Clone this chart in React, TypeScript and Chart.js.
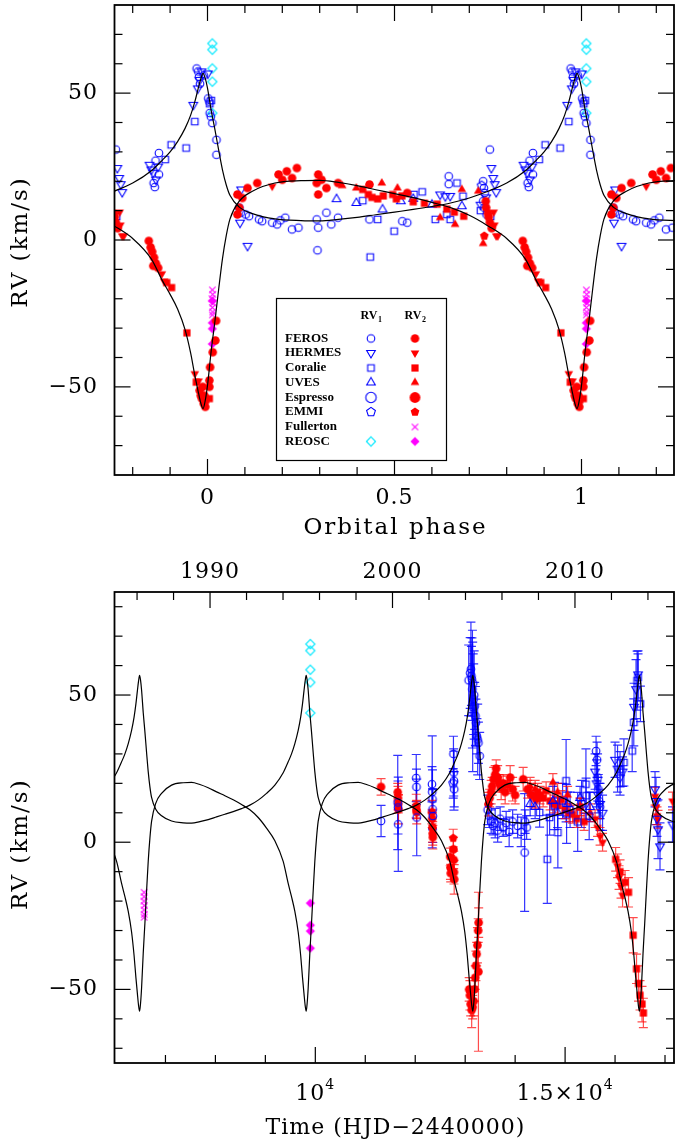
import React, { useEffect, useRef } from "react";
import { Chart, registerables } from "chart.js";

Chart.register(...registerables);

// ================= Orbital model (one cycle) =================
const MODEL_PHASE = [0, 0.01, 0.02, 0.03, 0.04, 0.05, 0.06, 0.085, 0.12, 0.18, 0.25, 0.3, 0.35, 0.4, 0.45, 0.5, 0.55, 0.6, 0.65, 0.7, 0.75, 0.8, 0.85, 0.88, 0.9, 0.92, 0.94, 0.955, 0.966, 0.975, 0.982, 0.988, 0.994];
const MODEL_RV1 = [51.7, 44.0, 37.5, 30.5, 23.9, 18.8, 15.2, 11.2, 9.0, 7.2, 6.6, 6.5, 7.0, 7.7, 8.6, 9.5, 10.4, 11.4, 12.6, 14.3, 16.6, 19.4, 23.6, 27.3, 30.0, 33.5, 38.0, 42.5, 47.0, 51.5, 54.8, 56.7, 55.0];
const MODEL_RV2 = [-49.5, -37.6, -27.5, -16.6, -6.4, 1.4, 7.1, 13.2, 16.6, 19.4, 20.2, 20.3, 19.6, 18.5, 17.1, 15.8, 14.4, 12.8, 11.0, 8.4, 4.8, 0.5, -6.5, -14.0, -18.5, -23.5, -30.5, -38.5, -46.0, -51.5, -55.5, -57.4, -54.6];
const EPOCH = 6522; // HJD-2440000 at phase 0
const PERIOD = 3335; // days

// ================= Phase-folded data [phase, RV] =================
const PH_FEROS_RV1 = [
  [0.002, 48.2], [0.005, 47.1], [0.006, 43.2], [0.009, 42.0], [0.013, 39.8], [0.024, 34.1], [0.024, 29.0],
  [0.085, 11.0], [0.089, 9.3], [0.102, 8.7], [0.111, 8.1], [0.138, 7.0], [0.146, 6.4],
  [0.173, 5.9], [0.186, 5.3], [0.195, 6.7], [0.208, 7.6], [0.226, 3.6], [0.243, 4.2],
  [0.292, 7.0], [0.296, 4.2], [0.294, -3.5], [0.318, 9.3], [0.331, 5.3], [0.349, 7.6],
  [0.433, 7.0], [0.521, 6.4], [0.534, 5.9], [0.645, 21.7], [0.645, 19.0],
  [0.737, 20.0], [0.739, 17.7], [0.741, 16.0], [0.737, 13.2], [0.74, 11.0], [0.746, 8.7], [0.755, 30.8],
  [0.856, 19.4], [0.859, 18.0], [0.861, 27.0], [0.87, 22.3], [0.87, 29.6],
  [0.971, 58.4], [0.975, 57.4], [0.977, 55.5], [0.98, 53.2], [0.99, 56.0],
];
const PH_HERMES_RV1 = [
  [0.001, 56.7], [0.087, 5.9], [0.09, 17.2], [0.107, -2.0],
  [0.622, 15.5], [0.636, 14.9], [0.649, 15.0], [0.73, 12.0], [0.745, 14.5],
  [0.759, 24.5], [0.764, 21.1], [0.768, 19.0], [0.772, 16.3],
  [0.845, 25.6], [0.85, 24.0], [0.855, 22.9], [0.862, 20.6], [0.868, 25.0],
  [0.962, 46.0], [0.974, 51.6], [0.979, 54.5], [0.984, 57.4],
];
const PH_CORALIE_RV1 = [
  [0.006, 46.4], [0.01, 47.5], [0.415, 13.4], [0.435, -5.8], [0.455, 7.0], [0.499, 3.0],
  [0.552, 15.5], [0.574, 16.4], [0.609, 7.0], [0.64, 8.7], [0.649, 7.0], [0.667, 19.4], [0.683, 14.9],
  [0.73, 10.0], [0.757, 8.0], [0.887, 27.4], [0.903, 32.4], [0.943, 31.3], [0.966, 40.3],
];
const PH_UVES_RV1 = [[0.345, 13.9], [0.398, 12.6], [0.468, 10.4], [0.517, 13.2], [0.55, 14.0], [0.6, 12.0], [0.68, 11.5]];
const PH_EMMI_RV1 = [[0.733, 18.5]];
const PH_REOSC_RV1 = [[0.013, 66.9], [0.013, 64.8], [0.013, 58.4], [0.013, 53.9], [0.013, 43.2]];

const PH_FEROS_RV2 = [
  [0.005, -47.8], [0.005, -50.0], [0.007, -43.3], [0.014, -38.2], [0.021, -34.2], [0.023, -27.5],
  [0.08, 15.5], [0.08, 8.7], [0.085, 11.0], [0.093, 14.3], [0.107, 17.7], [0.133, 19.4],
  [0.19, 22.3], [0.2, 20.5], [0.212, 23.4], [0.226, 21.1], [0.239, 24.5],
  [0.292, 19.4], [0.296, 22.3], [0.296, 15.5], [0.305, 20.5], [0.318, 17.7], [0.349, 19.4], [0.433, 18.9], [0.534, 16.0],
  [0.744, 13.2], [0.745, 11.0], [0.75, 9.0], [0.752, 7.8], [0.755, 6.0], [0.76, 4.0],
  [0.843, -0.3], [0.848, -2.5], [0.852, -4.0], [0.855, -8.8], [0.857, -6.0], [0.862, -8.0], [0.868, -9.5],
  [0.979, -51.2], [0.982, -52.9], [0.985, -54.0], [0.987, -50.0], [0.99, -55.7], [0.992, -53.0], [0.994, -56.8],
];
const PH_HERMES_RV2 = [[0.173, 18.3], [0.765, 9.5], [0.767, 5.1], [0.772, 1.4], [0.776, 1.4], [0.878, -11.5], [0.884, -14.0], [0.966, -45.5], [0.976, -48.0]];
const PH_CORALIE_RV2 = [
  [0.005, -54.0], [0.415, 17.2], [0.43, 15.5], [0.44, 14.5], [0.455, 14.0], [0.47, 15.0], [0.495, 15.5], [0.505, 14.0],
  [0.52, 15.0], [0.55, 13.0], [0.58, 12.5], [0.614, 12.2], [0.64, 10.5], [0.66, 9.5], [0.685, 8.1],
  [0.891, -14.5], [0.904, -16.2], [0.945, -31.6], [0.97, -48.4], [0.995, -54.5],
];
const PH_UVES_RV2 = [[0.36, 18.5], [0.398, 17.7], [0.466, 19.4], [0.508, 17.7], [0.622, 7.6], [0.662, 5.3], [0.68, 17.2], [0.724, 16.6], [0.737, -1.2]];
const PH_EMMI_RV2 = [[0.74, 1.4]];
const PH_FULLERTON_RV2 = [[0.013, -17.0], [0.014, -18.5], [0.012, -20.0], [0.015, -21.5], [0.013, -23.0], [0.014, -24.5], [0.013, -25.5]];
const PH_REOSC_RV2 = [[0.013, -20.7], [0.013, -28.2], [0.013, -30.2], [0.013, -35.4]];

// ================= Time series [HJD-2440000, RV, error] =================
const T_FEROS_RV1 = [
  [11316, 7.2, 5.3],
  [11650, 13.5, 16], [11655, 11.8, 9], [11660, 6.1, 16],
  [12020, 21.8, 8], [12025, 18.8, 6], [12030, 8.4, 13],
  [12335, 19.7, 6], [12340, 17.1, 19], [12345, 14.6, 10], [12348, 11.2, 7], [12352, 8.9, 9],
  [12765, 30.0, 6], [12770, 23.7, 8], [12775, 20.9, 10], [12780, 18.0, 6],
  [13070, 55.0, 12], [13100, 57.5, 12], [13115, 58.8, 16], [13125, 56.5, 10], [13135, 55.4, 14], [13145, 52.0, 20], [13160, 54.0, 10],
  [13170, 48.6, 12], [13180, 50.0, 15], [13190, 46.3, 8], [13205, 42.9, 10], [13215, 40.6, 8], [13235, 36.0, 6],
  [13250, 34.9, 12], [13265, 33.8, 7], [13290, 29.3, 8], [13150, 46.0, 22],
  [13450, 11.0, 5], [13480, 9.0, 4], [13520, 7.0, 4], [13560, 5.5, 3], [13600, 6.5, 5], [13650, 4.0, 4],
  [13700, 8.0, 4], [13760, 5.0, 3], [13820, 6.5, 4], [13880, 3.5, 5], [13950, 7.0, 4], [14050, 5.5, 4],
  [14120, 3.5, 5], [14190, -3.5, 20], [14200, 7.0, 4], [14230, 5.0, 4],
  [15620, 31.0, 5], [15640, 28.0, 6], [15650, 22.0, 8], [15665, 18.0, 5], [15680, 14.0, 6], [15700, 12.0, 8],
];
const T_FEROS_RV2 = [
  [11316, 18.8, 2.8],
  [11650, 17.0, 3], [11655, 15.0, 4], [11660, 13.0, 3], [11665, 11.2, 5],
  [12020, 12.3, 4], [12025, 11.0, 3], [12030, 10.2, 4],
  [12335, 10.2, 4], [12340, 8.0, 3], [12345, 5.0, 5], [12350, 3.0, 4], [12352, 1.7, 4],
  [12700, -5.0, 3], [12705, -8.6, 4], [12710, -10.5, 3], [12765, -2.4, 4], [12770, -6.0, 3], [12775, -10.2, 4], [12780, -12.6, 5],
  [13080, -50, 4], [13095, -52, 5], [13110, -55, 4], [13130, -57, 6], [13150, -56, 4], [13170, -54, 5], [13185, -50, 4],
  [13200, -46, 4], [13215, -42, 5], [13230, -38, 4], [13245, -35, 6], [13260, -30, 4], [13270, -27.3, 5], [13265, -44, 27],
  [13466, 12.9, 4], [13490, 15.0, 3], [13520, 17.0, 4], [13540, 19.0, 3], [13570, 21.4, 4], [13600, 23.0, 3], [13620, 25.0, 3],
  [13650, 22.0, 4], [13680, 20.0, 3], [13720, 18.5, 4], [13760, 20.0, 3], [13800, 17.0, 4], [13850, 19.5, 3], [13900, 22.0, 4],
  [13950, 18.0, 4], [14000, 16.0, 3], [14160, 21.4, 4], [14250, 18.0, 3], [14330, 16.0, 4], [14420, 14.6, 3],
];
const T_CORALIE_RV1 = [
  [14490, 10.1, 5], [14643, -5.8, 15], [14690, 8.4, 6], [14788, 12.3, 8], [14855, 3.3, 12], [14950, 14.0, 6],
  [15020, 20.9, 14], [15030, 9.6, 10], [15100, 11.0, 6], [15252, 6.9, 10], [15330, 13.0, 8], [15417, 19.7, 12],
  [15420, 15.8, 6], [15482, 8.9, 8], [16100, 24.8, 6], [16177, 27.1, 8], [16343, 31.0, 7], [16375, 40.7, 8],
  [16442, 54.9, 10], [16460, 56.0, 8], [16508, 47.0, 6],
];
const T_CORALIE_RV2 = [
  [14450, 17, 3], [14500, 16, 3], [14560, 15, 3], [14620, 17.5, 3], [14700, 14, 3], [14780, 13, 3], [14850, 12.5, 3],
  [14920, 14.5, 3], [15000, 11, 3], [15080, 10, 3], [15150, 9.5, 3], [15230, 8, 3], [15300, 12, 3], [15380, 7, 3],
  [16012, -5.8, 4], [16100, -10, 4], [16200, -13.6, 4], [16270, -17, 5], [16363, -31.6, 6], [16430, -43, 5],
  [16470, -48, 6], [16500, -52, 5], [16540, -55, 6], [16567, -58, 5],
];
const T_UVES_RV1 = [[14300, 13, 4], [14400, 12, 4], [14756, 14, 5], [14850, 10, 5], [15050, 13, 4], [15300, 15, 4], [15500, 12, 5]];
const T_UVES_RV2 = [[14300, 19, 3], [14400, 18, 3], [14756, 20.3, 3], [14850, 17, 3], [15050, 16, 3], [15300, 12, 3], [15500, 10, 3]];
const T_HERMES_RV1 = [
  [15600, 24, 6], [15630, 20, 8], [15660, 16, 6], [15700, 13, 5], [15750, 10, 6], [16000, 28, 6], [16050, 25, 8],
  [16100, 22, 6], [16150, 24, 5], [16380, 46, 8], [16420, 52, 10], [16460, 57, 8], [16800, 18, 6], [16820, 14, 8],
  [16840, 8, 6], [16860, 4.4, 10], [16900, -1.4, 8], [17150, 6, 6],
];
const T_HERMES_RV2 = [
  [15600, 8, 3], [15650, 5, 3], [15700, 2, 3], [15750, 0, 3], [16050, -8, 4], [16080, -12, 4], [16120, -15, 4],
  [16150, -18, 4], [16800, 15.6, 3], [16820, 12, 3], [16840, 9, 3], [16860, 7.8, 3], [17150, 14, 3],
];
const T_EMMI_RV1 = [[12760, 20, 5]];
const T_EMMI_RV2 = [[12760, 1.4, 3]];
const T_FULLERTON_RV2 = [[6573, -17.0, 0], [6573, -18.5, 0], [6570, -20.0, 0], [6576, -21.5, 0], [6573, -23.0, 0], [6575, -24.5, 0], [6572, -25.5, 0]];
const T_REOSC_RV1 = [[9900, 67.3, 0], [9900, 65.1, 0], [9900, 58.6, 0], [9900, 54.3, 0], [9900, 43.9, 0]];
const T_REOSC_RV2 = [[9900, -20.7, 0], [9900, -28.2, 0], [9900, -30.2, 0], [9900, -36.0, 0]];

// ================= Axes =================
const PHASE_RANGE = [-0.25, 1.25];
const RV_RANGE_TOP = [-80, 80];
const TIME_RANGE = [5970, 17200];
const RV_RANGE_BOTTOM = [-75, 85];
const PHASE_MAJOR = [0, 0.5, 1];
const PHASE_LABELS = ["0", "0.5", "1"];
const PHASE_MINOR = [-0.2, -0.1, 0.1, 0.2, 0.3, 0.4, 0.6, 0.7, 0.8, 0.9, 1.1, 1.2];
const RV_MAJOR = [-50, 0, 50];
const RV_LABELS = ["\u221250", "0", "50"];
const RV_MINOR_TOP = [-70, -60, -40, -30, -20, -10, 10, 20, 30, 40, 60, 70];
const RV_MINOR_BOTTOM = [-70, -60, -40, -30, -20, -10, 10, 20, 30, 40, 60, 70, 80];
const TIME_MAJOR = [10000, 15000];
const TIME_LABELS = [["10", "4"], ["1.5\u00d710", "4"]];
const TIME_MINOR = [7000, 8000, 9000, 11000, 12000, 13000, 14000, 16000, 17000];
const YEAR_MAJOR = [1990, 2000, 2010];
const YEAR_LABELS = ["1990", "2000", "2010"];
const YEAR_MINOR = [1986, 1988, 1992, 1994, 1996, 1998, 2002, 2004, 2006, 2008, 2012, 2014];
const YEAR_1990_T = 7892.5; // 1990.0 in HJD-2440000
const DAYS_PER_YEAR = 365.25;

const LEGEND_NAMES = ["FEROS", "HERMES", "Coralie", "UVES", "Espresso", "EMMI", "Fullerton", "REOSC"];

const BLUE = "#0000ff";
const RED = "#ff0000";
const CYAN = "#00e8ff";
const MAGENTA = "#ff00ff";
const FONT = "'DejaVu Serif', serif";

const TOP_H = 545;
const BOT_H = 599;

type Shape = "circle" | "triUp" | "triDown" | "square" | "diamond" | "pentagon" | "cross";

function makeMarker(shape: Shape, color: string, filled: boolean, r: number): HTMLCanvasElement {
  const size = Math.ceil(2 * r + 4);
  const c = document.createElement("canvas");
  c.width = size;
  c.height = size;
  const ctx = c.getContext("2d")!;
  const cx = size / 2;
  const cy = size / 2;
  ctx.strokeStyle = color;
  ctx.fillStyle = color;
  ctx.lineWidth = 1.1;
  const poly = (n: number, start: number) => {
    for (let i = 0; i < n; i++) {
      const a = start + (i * 2 * Math.PI) / n;
      const x = cx + r * Math.cos(a);
      const y = cy + r * Math.sin(a);
      if (i === 0) ctx.moveTo(x, y);
      else ctx.lineTo(x, y);
    }
    ctx.closePath();
  };
  ctx.beginPath();
  if (shape === "circle") ctx.arc(cx, cy, r, 0, Math.PI * 2);
  else if (shape === "square") ctx.rect(cx - r, cy - r, 2 * r, 2 * r);
  else if (shape === "triUp") poly(3, -Math.PI / 2);
  else if (shape === "triDown") poly(3, Math.PI / 2);
  else if (shape === "diamond") poly(4, -Math.PI / 2);
  else if (shape === "pentagon") poly(5, -Math.PI / 2);
  else if (shape === "cross") {
    ctx.moveTo(cx - r, cy - r);
    ctx.lineTo(cx + r, cy + r);
    ctx.moveTo(cx + r, cy - r);
    ctx.lineTo(cx - r, cy + r);
  }
  if (shape === "cross" || !filled) ctx.stroke();
  else ctx.fill();
  return c;
}

function buildMarkers() {
  return {
    ferosB: makeMarker("circle", BLUE, false, 3.8),
    ferosR: makeMarker("circle", RED, true, 4.3),
    hermesB: makeMarker("triDown", BLUE, false, 5),
    hermesR: makeMarker("triDown", RED, true, 5),
    coralieB: makeMarker("square", BLUE, false, 3.3),
    coralieR: makeMarker("square", RED, true, 3.6),
    uvesB: makeMarker("triUp", BLUE, false, 5),
    uvesR: makeMarker("triUp", RED, true, 5),
    espB: makeMarker("circle", BLUE, false, 5.2),
    espR: makeMarker("circle", RED, true, 5.4),
    emmiB: makeMarker("pentagon", BLUE, false, 4.6),
    emmiR: makeMarker("pentagon", RED, true, 4.6),
    fullR: makeMarker("cross", MAGENTA, false, 3.2),
    reoscB: makeMarker("diamond", CYAN, false, 4.6),
    reoscR: makeMarker("diamond", MAGENTA, true, 4.6),
  };
}

function foldCopies(pts: number[][]) {
  const out: { x: number; y: number }[] = [];
  for (const [p, v] of pts) {
    for (const n of [-1, 0, 1]) {
      const x = p + n;
      if (x >= PHASE_RANGE[0] && x <= PHASE_RANGE[1]) out.push({ x, y: v });
    }
  }
  return out;
}

function modelPhaseCurve(rv: number[]) {
  const out: { x: number; y: number }[] = [];
  for (const n of [-1, 0, 1]) {
    MODEL_PHASE.forEach((p, i) => {
      const x = p + n;
      if (x >= -0.36 && x <= 1.36) out.push({ x, y: rv[i] });
    });
  }
  return out;
}

function modelTimeCurve(rv: number[]) {
  const out: { x: number; y: number }[] = [];
  for (const n of [-1, 0, 1, 2, 3]) {
    MODEL_PHASE.forEach((p, i) => {
      const t = EPOCH + PERIOD * (p + n);
      if (t >= TIME_RANGE[0] - 400 && t <= TIME_RANGE[1] + 400) out.push({ x: t, y: rv[i] });
    });
  }
  return out;
}

function curveDs(data: { x: number; y: number }[]) {
  return {
    data,
    showLine: true,
    borderColor: "#000",
    borderWidth: 1.2,
    pointRadius: 0,
    cubicInterpolationMode: "monotone",
    order: 0,
  } as any;
}

function pointDs(data: { x: number; y: number }[], img: HTMLCanvasElement, extra: any = {}) {
  return {
    data,
    pointStyle: img,
    pointRadius: 4,
    showLine: false,
    order: 1,
    ...extra,
  } as any;
}

function timeDs(rows: number[][], img: HTMLCanvasElement, errColor: string) {
  return pointDs(
    rows.map(([t, v]) => ({ x: t, y: v })),
    img,
    { errs: rows.map((r) => r[2]), errColor }
  );
}

const errorBarPlugin = {
  id: "errbars",
  beforeDatasetsDraw(chart: any) {
    const ctx = chart.ctx;
    const ys = chart.scales.y;
    const a = chart.chartArea;
    ctx.save();
    ctx.beginPath();
    ctx.rect(a.left, a.top, a.right - a.left, a.bottom - a.top);
    ctx.clip();
    chart.data.datasets.forEach((ds: any, i: number) => {
      if (!ds.errs) return;
      const meta = chart.getDatasetMeta(i);
      ctx.strokeStyle = ds.errColor;
      ctx.lineWidth = 1.2;
      meta.data.forEach((pt: any, j: number) => {
        const e = ds.errs[j];
        if (!e) return;
        const v = ds.data[j].y;
        const y1 = ys.getPixelForValue(v - e);
        const y2 = ys.getPixelForValue(v + e);
        ctx.beginPath();
        ctx.moveTo(pt.x, y1);
        ctx.lineTo(pt.x, y2);
        ctx.moveTo(pt.x - 4.5, y1);
        ctx.lineTo(pt.x + 4.5, y1);
        ctx.moveTo(pt.x - 4.5, y2);
        ctx.lineTo(pt.x + 4.5, y2);
        ctx.stroke();
      });
    });
    ctx.restore();
  },
};

type Lbl = { v: number; text: string; sup?: string };
type FrameCfg = {
  xMinor: number[];
  xMajor: number[];
  topMinor: number[];
  topMajor: number[];
  yMinor: number[];
  yMajor: number[];
  xLabels: Lbl[];
  xLabelY: number;
  topLabels: Lbl[];
  topLabelY: number;
  yLabels: Lbl[];
  xTitle: string;
  xTitleY: number;
  xTitleFont: string;
  xTitleSpacing: string;
  yTitle: string;
};

function setSpacing(ctx: any, s: string) {
  try {
    ctx.letterSpacing = s;
  } catch (e) {
    /* ignore */
  }
}

function makeFramePlugin(cfg: FrameCfg) {
  return {
    id: "frameAxes",
    afterDatasetsDraw(chart: any) {
      const ctx = chart.ctx;
      const a = chart.chartArea;
      const xs = chart.scales.x;
      const ys = chart.scales.y;
      const L = a.left + 0.5;
      const R = a.right - 1;
      const T = a.top;
      const B = a.bottom;
      const MAJ = 16;
      const MIN = 8;
      ctx.save();
      ctx.strokeStyle = "#000";
      ctx.lineWidth = 1.2;
      const seg = (x1: number, y1: number, x2: number, y2: number) => {
        ctx.beginPath();
        ctx.moveTo(x1, y1);
        ctx.lineTo(x2, y2);
        ctx.stroke();
      };
      cfg.xMinor.forEach((v) => { const p = xs.getPixelForValue(v); seg(p, B, p, B - MIN); });
      cfg.xMajor.forEach((v) => { const p = xs.getPixelForValue(v); seg(p, B, p, B - MAJ); });
      cfg.topMinor.forEach((v) => { const p = xs.getPixelForValue(v); seg(p, T, p, T + MIN); });
      cfg.topMajor.forEach((v) => { const p = xs.getPixelForValue(v); seg(p, T, p, T + MAJ); });
      cfg.yMinor.forEach((v) => { const p = ys.getPixelForValue(v); seg(L, p, L + MIN, p); seg(R, p, R - MIN, p); });
      cfg.yMajor.forEach((v) => { const p = ys.getPixelForValue(v); seg(L, p, L + MAJ, p); seg(R, p, R - MAJ, p); });
      ctx.lineWidth = 1.8;
      ctx.strokeRect(L, T, R - L, B - T);

      ctx.fillStyle = "#000";
      const big = `22px ${FONT}`;
      const small = `14px ${FONT}`;
      ctx.textBaseline = "middle";
      setSpacing(ctx, "1px");
      const drawLbl = (l: Lbl, px: number, py: number) => {
        ctx.font = big;
        const wb = ctx.measureText(l.text).width;
        let ws = 0;
        if (l.sup) {
          ctx.font = small;
          ws = ctx.measureText(l.sup).width;
        }
        const start = px - (wb + ws) / 2;
        ctx.font = big;
        ctx.textAlign = "left";
        ctx.fillText(l.text, start, py);
        if (l.sup) {
          ctx.font = small;
          ctx.fillText(l.sup, start + wb, py - 9);
        }
      };
      cfg.xLabels.forEach((l) => drawLbl(l, xs.getPixelForValue(l.v), cfg.xLabelY));
      cfg.topLabels.forEach((l) => drawLbl(l, xs.getPixelForValue(l.v), cfg.topLabelY));
      ctx.font = big;
      ctx.textAlign = "right";
      cfg.yLabels.forEach((l) => ctx.fillText(l.text, a.left - 16, ys.getPixelForValue(l.v)));

      ctx.textAlign = "center";
      setSpacing(ctx, cfg.xTitleSpacing);
      ctx.font = cfg.xTitleFont;
      ctx.fillText(cfg.xTitle, (a.left + a.right) / 2 + 1, cfg.xTitleY);
      setSpacing(ctx, "2px");
      ctx.font = `23px ${FONT}`;
      ctx.save();
      ctx.translate(21, ys.getPixelForValue(0) + 2);
      ctx.rotate(-Math.PI / 2);
      ctx.fillText(cfg.yTitle, 0, 0);
      ctx.restore();
      setSpacing(ctx, "0px");
      ctx.restore();
    },
  };
}

function makeLegendPlugin(m: ReturnType<typeof buildMarkers>) {
  const blueCol = [m.ferosB, m.hermesB, m.coralieB, m.uvesB, m.espB, m.emmiB, null, m.reoscB];
  const redCol = [m.ferosR, m.hermesR, m.coralieR, m.uvesR, m.espR, m.emmiR, m.fullR, m.reoscR];
  return {
    id: "customLegend",
    afterDraw(chart: any) {
      const ctx = chart.ctx;
      const bx = 276.5, by = 298.5, bw = 170, bh = 162;
      ctx.save();
      ctx.fillStyle = "#fff";
      ctx.fillRect(bx, by, bw, bh);
      ctx.strokeStyle = "#000";
      ctx.lineWidth = 1.2;
      ctx.strokeRect(bx, by, bw, bh);
      ctx.fillStyle = "#000";
      ctx.textBaseline = "middle";
      const head = (x: number, sub: string) => {
        ctx.font = `bold 12px 'Liberation Serif', serif`;
        const w = ctx.measureText("RV").width;
        ctx.font = `bold 8px 'Liberation Serif', serif`;
        const ws = ctx.measureText(sub).width;
        const s = x - (w + ws) / 2;
        ctx.font = `bold 12px 'Liberation Serif', serif`;
        ctx.textAlign = "left";
        ctx.fillText("RV", s, 316);
        ctx.font = `bold 8px 'Liberation Serif', serif`;
        ctx.fillText(sub, s + w + 0.5, 320);
      };
      head(371, "1");
      head(415, "2");
      const rowY = [338.5, 353, 368, 382.5, 397.5, 412, 427, 441.5];
      ctx.font = `bold 13px 'Liberation Serif', serif`;
      ctx.textAlign = "left";
      LEGEND_NAMES.forEach((name, i) => {
        ctx.fillText(name, 285, rowY[i]);
        const b = blueCol[i];
        const r = redCol[i];
        if (b) ctx.drawImage(b, 371 - b.width / 2, rowY[i] - b.height / 2);
        if (r) ctx.drawImage(r, 415 - r.width / 2, rowY[i] - r.height / 2);
      });
      ctx.restore();
    },
  };
}

const yearToT = (y: number) => YEAR_1990_T + (y - 1990) * DAYS_PER_YEAR;

export default function App() {
  const topRef = useRef<HTMLCanvasElement>(null);
  const botRef = useRef<HTMLCanvasElement>(null);

  useEffect(() => {
    const m = buildMarkers();
    const commonOpts = (xr: number[], yr: number[], padding: any) => ({
      animation: false,
      responsive: false,
      devicePixelRatio: 1,
      events: [],
      layout: { padding },
      plugins: { legend: { display: false }, tooltip: { enabled: false } },
      scales: {
        x: { type: "linear", min: xr[0], max: xr[1], display: false },
        y: { type: "linear", min: yr[0], max: yr[1], display: false },
      },
    });

    // ---------- top: phase-folded ----------
    const topDatasets = [
      curveDs(modelPhaseCurve(MODEL_RV1)),
      curveDs(modelPhaseCurve(MODEL_RV2)),
      pointDs(foldCopies(PH_CORALIE_RV2), m.coralieR),
      pointDs(foldCopies(PH_UVES_RV2), m.uvesR),
      pointDs(foldCopies(PH_HERMES_RV2), m.hermesR),
      pointDs(foldCopies(PH_EMMI_RV2), m.emmiR),
      pointDs(foldCopies(PH_FEROS_RV2), m.ferosR),
      pointDs(foldCopies(PH_FULLERTON_RV2), m.fullR),
      pointDs(foldCopies(PH_REOSC_RV2), m.reoscR),
      pointDs(foldCopies(PH_CORALIE_RV1), m.coralieB),
      pointDs(foldCopies(PH_UVES_RV1), m.uvesB),
      pointDs(foldCopies(PH_HERMES_RV1), m.hermesB),
      pointDs(foldCopies(PH_EMMI_RV1), m.emmiB),
      pointDs(foldCopies(PH_FEROS_RV1), m.ferosB),
      pointDs(foldCopies(PH_REOSC_RV1), m.reoscB),
    ];
    const topFrame = makeFramePlugin({
      xMinor: PHASE_MINOR,
      xMajor: PHASE_MAJOR,
      topMinor: PHASE_MINOR,
      topMajor: PHASE_MAJOR,
      yMinor: RV_MINOR_TOP,
      yMajor: RV_MAJOR,
      xLabels: PHASE_MAJOR.map((v, i) => ({ v, text: PHASE_LABELS[i] })),
      xLabelY: 498,
      topLabels: [],
      topLabelY: 0,
      yLabels: RV_MAJOR.map((v, i) => ({ v, text: RV_LABELS[i] })),
      xTitle: "Orbital phase",
      xTitleY: 528,
      xTitleFont: `23px ${FONT}`,
      xTitleSpacing: "2px",
      yTitle: "RV (km/s)",
    });
    const topChart = new Chart(topRef.current!, {
      type: "scatter",
      data: { datasets: topDatasets },
      options: commonOpts(PHASE_RANGE, RV_RANGE_TOP, { left: 114, right: 0, top: 3, bottom: TOP_H - 475 }) as any,
      plugins: [topFrame, makeLegendPlugin(m)],
    });

    // ---------- bottom: time series ----------
    const eR = "rgba(255,0,0,0.7)";
    const eB = "rgba(0,0,255,0.8)";
    const botDatasets = [
      curveDs(modelTimeCurve(MODEL_RV1)),
      curveDs(modelTimeCurve(MODEL_RV2)),
      timeDs(T_CORALIE_RV1, m.coralieB, eB),
      timeDs(T_UVES_RV1, m.uvesB, eB),
      timeDs(T_HERMES_RV1, m.hermesB, eB),
      timeDs(T_EMMI_RV1, m.emmiB, eB),
      timeDs(T_FEROS_RV1, m.ferosB, eB),
      timeDs(T_REOSC_RV1, m.reoscB, eB),
      timeDs(T_CORALIE_RV2, m.coralieR, eR),
      timeDs(T_UVES_RV2, m.uvesR, eR),
      timeDs(T_HERMES_RV2, m.hermesR, eR),
      timeDs(T_EMMI_RV2, m.emmiR, eR),
      timeDs(T_FEROS_RV2, m.ferosR, eR),
      timeDs(T_FULLERTON_RV2, m.fullR, eR),
      timeDs(T_REOSC_RV2, m.reoscR, eR),
    ];
    const botFrame = makeFramePlugin({
      xMinor: TIME_MINOR,
      xMajor: TIME_MAJOR,
      topMinor: YEAR_MINOR.map(yearToT),
      topMajor: YEAR_MAJOR.map(yearToT),
      yMinor: RV_MINOR_BOTTOM,
      yMajor: RV_MAJOR,
      xLabels: TIME_MAJOR.map((v, i) => ({ v, text: TIME_LABELS[i][0], sup: TIME_LABELS[i][1] })),
      xLabelY: 1094 - 545,
      topLabels: YEAR_MAJOR.map((v, i) => ({ v: yearToT(v), text: YEAR_LABELS[i] })),
      topLabelY: 572 - 545,
      yLabels: RV_MAJOR.map((v, i) => ({ v, text: RV_LABELS[i] })),
      xTitle: "Time (HJD\u22122440000)",
      xTitleY: 1128 - 545,
      xTitleFont: `22px ${FONT}`,
      xTitleSpacing: "1px",
      yTitle: "RV (km/s)",
    });
    const botChart = new Chart(botRef.current!, {
      type: "scatter",
      data: { datasets: botDatasets },
      options: commonOpts(TIME_RANGE, RV_RANGE_BOTTOM, { left: 114, right: 0, top: 592 - 545, bottom: BOT_H - (1063 - 545) }) as any,
      plugins: [errorBarPlugin, botFrame],
    });

    return () => {
      topChart.destroy();
      botChart.destroy();
    };
  }, []);

  return (
    <div style={{ position: "absolute", left: 0, top: 0, width: 680, height: 1144, background: "#fff" }}>
      <canvas ref={topRef} width={680} height={TOP_H} style={{ position: "absolute", left: 0, top: 0, width: 680, height: TOP_H }} />
      <canvas ref={botRef} width={680} height={BOT_H} style={{ position: "absolute", left: 0, top: TOP_H, width: 680, height: BOT_H }} />
    </div>
  );
}
